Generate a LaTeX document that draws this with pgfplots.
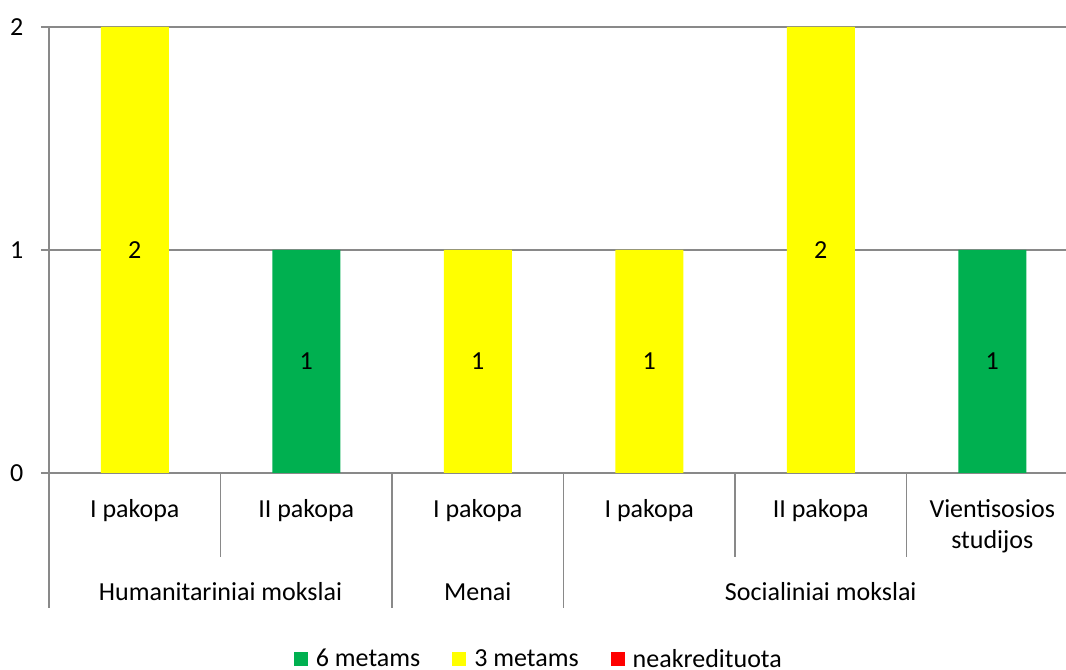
\documentclass[border=0pt]{standalone}
\usepackage{pgfplots}
\pgfplotsset{compat=1.18}
\usepackage{fontspec}
\setmainfont{Carlito}
\definecolor{cgreen}{HTML}{00B050}
\definecolor{cyellow}{HTML}{FFFF00}
\definecolor{cred}{HTML}{FF0000}
\definecolor{cgrid}{HTML}{898989}
\newcommand\cf{\fontsize{19.5}{23.25}\selectfont}
\begin{document}
\begin{tikzpicture}
\begin{axis}[
 at={(0,0)}, anchor=south west,
 scale only axis, width=762.75pt, height=334.5pt,
 xmin=-0.5, xmax=5.43, ymin=0, ymax=2,
 axis lines*=left,
 axis line style={draw=cgrid, line width=1.1pt},
 xtick=\empty,
 ytick={0,1,2},
 ymajorgrids, grid style={draw=cgrid, line width=1.1pt},
 major tick length=6pt, tick align=outside,
 ytick style={draw=cgrid, line width=1.1pt},
 tick label style={font=\cf},
 yticklabel style={anchor=east, inner sep=0pt, xshift=-13pt},
 /pgf/number format/assume math mode=true,
 clip=false,
 bar width=51pt,
 legend style={at={(0.482,-0.417)}, anchor=center, draw=none, fill=none, legend columns=3, font=\cf,
   /tikz/every odd column/.append style={column sep=4pt},
   /tikz/every even column/.append style={column sep=22pt}},
 legend image code/.code={\fill[#1] (0pt,-5.25pt) rectangle (10.5pt,5.25pt);},
]
\addplot[ybar, bar shift=0pt, fill=cgreen, draw=none] coordinates {(1,1) (5,1)};
\addlegendentry{6 metams}
\addplot[ybar, bar shift=0pt, fill=cyellow, draw=none] coordinates {(0,2) (2,1) (3,1) (4,2)};
\addlegendentry{3 metams}
\addlegendimage{fill=cred, draw=none}
\addlegendentry{neakredituota}
\addplot[forget plot, draw=none, mark=none, nodes near coords, point meta=explicit symbolic,
  every node near coord/.append style={anchor=center, font=\cf}]
  coordinates {(0,1)[2] (1,0.5)[1] (2,0.5)[1] (3,0.5)[1] (4,1)[2] (5,0.5)[1]};
% category labels
\node[font=\cf, anchor=base] at (axis cs:0,0) [yshift=-33pt] {I pakopa};
\node[font=\cf, anchor=base] at (axis cs:1,0) [yshift=-33pt] {II pakopa};
\node[font=\cf, anchor=base] at (axis cs:2,0) [yshift=-33pt] {I pakopa};
\node[font=\cf, anchor=base] at (axis cs:3,0) [yshift=-33pt] {I pakopa};
\node[font=\cf, anchor=base] at (axis cs:4,0) [yshift=-33pt] {II pakopa};
\node[font=\cf, anchor=base] at (axis cs:5,0) [yshift=-33pt] {Vientisosios};
\node[font=\cf, anchor=base] at (axis cs:5,0) [yshift=-56.25pt] {studijos};
\node[font=\cf, anchor=base] at (axis cs:0.5,0) [yshift=-95.25pt] {Humanitariniai mokslai};
\node[font=\cf, anchor=base] at (axis cs:2,0) [yshift=-95.25pt] {Menai};
\node[font=\cf, anchor=base] at (axis cs:4,0) [yshift=-95.25pt] {Socialiniai mokslai};
% separators
\draw[cgrid, line width=1.1pt] (axis cs:0.5,0) -- ([yshift=-63pt]axis cs:0.5,0);
\draw[cgrid, line width=1.1pt] (axis cs:3.5,0) -- ([yshift=-63pt]axis cs:3.5,0);
\draw[cgrid, line width=1.1pt] (axis cs:4.5,0) -- ([yshift=-63pt]axis cs:4.5,0);
\draw[cgrid, line width=1.1pt] (axis cs:-0.5,0) -- ([yshift=-101.25pt]axis cs:-0.5,0);
\draw[cgrid, line width=1.1pt] (axis cs:1.5,0) -- ([yshift=-101.25pt]axis cs:1.5,0);
\draw[cgrid, line width=1.1pt] (axis cs:2.5,0) -- ([yshift=-101.25pt]axis cs:2.5,0);
\end{axis}
\pgfresetboundingbox
\path[use as bounding box] (-36.75pt,-147.75pt) rectangle (762.75pt,354.75pt);
\end{tikzpicture}
\end{document}
